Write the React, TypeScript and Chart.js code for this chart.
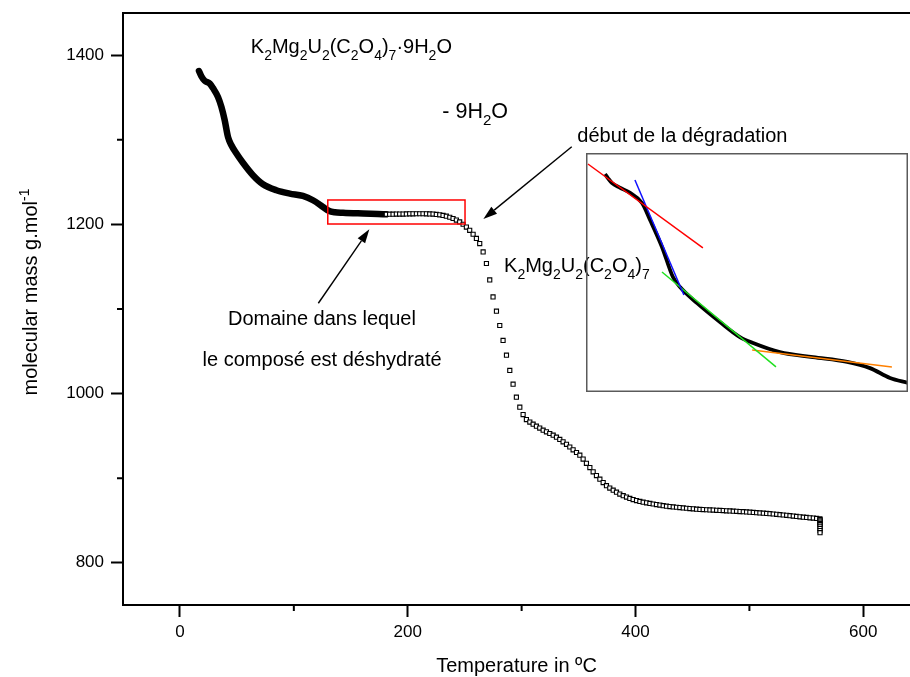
import React, { useEffect, useRef } from 'react';
import { Chart, registerables } from 'chart.js';

Chart.register(...registerables);

const FONT = "'Liberation Sans', Arial, Helvetica, sans-serif";

// ---- axis ticks ----
const xMajorTicks = [0, 200, 400, 600];
const xMinorTicks = [100, 300, 500];
const yMajorTicks = [800, 1000, 1200, 1400];
const yMinorTicks = [900, 1100, 1300];

// ---- densely sampled part (hydrated compound, markers merge into a band) ----
const denseTemp = [16.7, 18.8, 21.7, 26.2, 29.0, 33.4, 36.4, 39.3, 42.2, 45.2, 48.9, 55.3, 64.1, 72.9, 84.7, 96.4, 108.0, 116.8, 125.6, 130.6, 135.9, 143.2, 160.8, 178.3, 181.0];
const denseMass = [1381.4, 1375.2, 1369.9, 1366.5, 1361.2, 1350.7, 1338.9, 1323.2, 1303.4, 1293.6, 1285.3, 1272.9, 1258.2, 1247.5, 1240.4, 1236.5, 1233.7, 1228.6, 1220.7, 1216.2, 1214.4, 1213.8, 1212.9, 1212.1, 1211.9];

// ---- scan points (open squares) ----
const scanTemp = [
  181.2, 184.1, 187.1, 190.0, 192.9, 195.9, 198.8, 201.7, 204.6, 207.6,
  210.5, 213.4, 216.4, 219.3, 222.2, 225.1, 228.1, 231.0, 233.9, 236.9,
  239.8, 242.7, 245.6, 248.6, 251.5, 254.4, 257.4, 260.3, 263.2, 266.2,
  269.1, 272.0, 274.9, 277.9, 280.8, 283.7, 286.7, 289.6, 292.5, 295.4,
  298.4, 301.3, 304.2, 307.2, 310.1, 313.0, 315.9, 318.9, 321.8, 324.7,
  327.7, 330.6, 333.5, 336.4, 339.4, 342.3, 345.2, 348.2, 351.1, 354.0,
  356.9, 359.9, 362.8, 365.7, 368.7, 371.6, 374.5, 377.4, 380.4, 383.3,
  386.2, 389.2, 392.1, 395.0, 397.9, 400.9, 403.8, 406.7, 409.7, 412.6,
  415.5, 418.4, 421.4, 424.3, 427.2, 430.2, 433.1, 436.0, 438.9, 441.9,
  444.8, 447.7, 450.7, 453.6, 456.5, 459.4, 462.4, 465.3, 468.2, 471.2,
  474.1, 477.0, 479.9, 482.9, 485.8, 488.7, 491.7, 494.6, 497.5, 500.4,
  503.4, 506.3, 509.2, 512.2, 515.1, 518.0, 520.9, 523.9, 526.8, 529.7,
  532.7, 535.6, 538.5, 541.4, 544.4, 547.3, 550.2, 553.2, 556.1, 559.0,
  561.9, 562.0, 562.0, 562.0, 562.0, 562.0, 562.0, 562.0, 562.0, 562.0,
];
const scanMass = [
  1212.0, 1212.1, 1212.1, 1212.2, 1212.2, 1212.3, 1212.4, 1212.5, 1212.5, 1212.6,
  1212.6, 1212.6, 1212.5, 1212.4, 1212.2, 1211.8, 1211.3, 1210.6, 1209.7, 1208.5,
  1207.0, 1205.2, 1203.0, 1200.2, 1196.9, 1193.0, 1188.4, 1183.5, 1177.4, 1167.5,
  1153.8, 1134.4, 1114.3, 1097.4, 1080.5, 1062.8, 1045.4, 1027.4, 1011.1, 995.7,
  983.9, 975.2, 969.3, 966.3, 963.8, 961.5, 959.2, 956.7, 954.8, 952.8,
  950.8, 948.4, 945.8, 942.9, 940.0, 936.8, 933.5, 930.3, 927.2, 922.5,
  917.5, 912.5, 907.5, 903.0, 898.8, 894.8, 891.1, 888.3, 885.8, 883.4,
  881.2, 879.3, 877.6, 876.0, 874.6, 873.5, 872.5, 871.6, 870.8, 870.1,
  869.4, 868.7, 868.1, 867.5, 866.9, 866.4, 866.0, 865.6, 865.2, 864.8,
  864.4, 864.0, 863.7, 863.3, 863.0, 862.8, 862.6, 862.4, 862.2, 862.0,
  861.8, 861.6, 861.4, 861.2, 861.0, 860.8, 860.5, 860.3, 860.0, 859.8,
  859.5, 859.2, 858.9, 858.6, 858.3, 858.0, 857.6, 857.2, 856.8, 856.4,
  856.0, 855.6, 855.1, 854.7, 854.3, 853.9, 853.5, 853.1, 852.8, 852.4,
  851.8, 851.0, 849.5, 848.0, 846.5, 845.0, 843.0, 840.5, 838.0, 835.5,
];

// ---- inset (normalised units 0..100) ----
const insetCurveX = [5.9, 6.8, 8.1, 10.5, 13.7, 17.4, 19.9, 23.6, 27.0, 29.2, 34.5, 41.6, 47.8, 51.9, 60.2, 70.5, 81.1, 88.2, 94.4, 100];
const insetCurveY = [91.2, 89.5, 87.4, 85.5, 83.3, 79.1, 72.0, 60.7, 48.1, 43.9, 37.2, 29.3, 23.0, 20.5, 16.7, 14.6, 12.6, 10.0, 5.9, 3.8];
const insetRedX = [0.6, 36.3];
const insetRedY = [95.4, 60.3];
const insetBlueX = [15.2, 30.4];
const insetBlueY = [88.7, 40.6];
const insetGreenX = [23.6, 59.0];
const insetGreenY = [50.2, 10.5];
const insetOrangeX = [51.6, 95.0];
const insetOrangeY = [17.6, 10.5];

// ---- annotations (data coordinates) ----
const boxTemp = [129.8, 250.3];
const boxMass = [1200.5, 1228.9];
const arrowDomaine = [121.5, 1106.8, 166.3, 1194.3];
const arrowDebut = [344.0, 1291.9, 266.4, 1206.4];

type Part = [string, 'n' | 'sub' | 'sup'];
const titleFormula: Part[] = [
  ['K', 'n'], ['2', 'sub'], ['Mg', 'n'], ['2', 'sub'], ['U', 'n'], ['2', 'sub'], ['(C', 'n'], ['2', 'sub'],
  ['O', 'n'], ['4', 'sub'], [')', 'n'], ['7', 'sub'], ['\u00b79H', 'n'], ['2', 'sub'], ['O', 'n'],
];
const anhydrousFormula: Part[] = [
  ['K', 'n'], ['2', 'sub'], ['Mg', 'n'], ['2', 'sub'], ['U', 'n'], ['2', 'sub'], ['(C', 'n'], ['2', 'sub'],
  ['O', 'n'], ['4', 'sub'], [')', 'n'], ['7', 'sub'],
];
const waterLoss: Part[] = [['- 9H', 'n'], ['2', 'sub'], ['O', 'n']];
const yTitle: Part[] = [['molecular mass g.mol', 'n'], ['-1', 'sup']];

function drawRich(ctx: CanvasRenderingContext2D, parts: Part[], x: number, y: number, size: number, align: 'left' | 'center') {
  const small = size * 0.7;
  const widths = parts.map(([t, k]) => {
    ctx.font = `${k === 'n' ? size : small}px ${FONT}`;
    return ctx.measureText(t).width;
  });
  const total = widths.reduce((a, b) => a + b, 0);
  let cx = align === 'center' ? x - total / 2 : x;
  ctx.textAlign = 'left';
  ctx.textBaseline = 'alphabetic';
  parts.forEach(([t, k], i) => {
    ctx.font = `${k === 'n' ? size : small}px ${FONT}`;
    const dy = k === 'sub' ? size * 0.35 : k === 'sup' ? -size * 0.4 : 0;
    ctx.fillText(t, cx, y + dy);
    cx += widths[i];
  });
}

function drawArrow(ctx: CanvasRenderingContext2D, x1: number, y1: number, x2: number, y2: number) {
  const ang = Math.atan2(y2 - y1, x2 - x1);
  const len = 14;
  const half = 4.5;
  const bx = x2 - len * Math.cos(ang);
  const by = y2 - len * Math.sin(ang);
  ctx.strokeStyle = '#000';
  ctx.fillStyle = '#000';
  ctx.lineWidth = 1.4;
  ctx.beginPath();
  ctx.moveTo(x1, y1);
  ctx.lineTo(bx, by);
  ctx.stroke();
  ctx.beginPath();
  ctx.moveTo(x2, y2);
  ctx.lineTo(bx + half * Math.sin(ang), by - half * Math.cos(ang));
  ctx.lineTo(bx - half * Math.sin(ang), by + half * Math.cos(ang));
  ctx.closePath();
  ctx.fill();
}

const framePlugin = {
  id: 'originFrame',
  afterDraw(chart: any) {
    const { ctx, chartArea, scales } = chart;
    const x = scales.x;
    const y = scales.y;
    const px = (v: number) => x.getPixelForValue(v);
    const py = (v: number) => y.getPixelForValue(v);
    ctx.save();
    // top frame line
    ctx.strokeStyle = '#000';
    ctx.lineWidth = 2;
    ctx.beginPath();
    ctx.moveTo(chartArea.left - 1, chartArea.top);
    ctx.lineTo(chartArea.right, chartArea.top);
    ctx.stroke();
    // minor ticks
    ctx.beginPath();
    xMinorTicks.forEach((v) => {
      ctx.moveTo(px(v), chartArea.bottom);
      ctx.lineTo(px(v), chartArea.bottom + 6);
    });
    yMinorTicks.forEach((v) => {
      ctx.moveTo(chartArea.left, py(v));
      ctx.lineTo(chartArea.left - 6, py(v));
    });
    ctx.stroke();

    // red rectangle
    ctx.strokeStyle = '#ff0000';
    ctx.lineWidth = 1.5;
    const rx1 = px(boxTemp[0]);
    const rx2 = px(boxTemp[1]);
    const ry1 = py(boxMass[1]);
    const ry2 = py(boxMass[0]);
    ctx.strokeRect(rx1, ry1, rx2 - rx1, ry2 - ry1);

    // arrows
    drawArrow(ctx, px(arrowDomaine[0]), py(arrowDomaine[1]), px(arrowDomaine[2]), py(arrowDomaine[3]));
    drawArrow(ctx, px(arrowDebut[0]), py(arrowDebut[1]), px(arrowDebut[2]), py(arrowDebut[3]));

    // texts
    ctx.fillStyle = '#000';
    drawRich(ctx, titleFormula, px(62.2), py(1403.1), 20, 'left');
    drawRich(ctx, waterLoss, px(230.4), py(1326.2), 21.5, 'left');
    drawRich(ctx, [['d\u00e9but de la d\u00e9gradation', 'n']], px(348.9), py(1297.8), 20, 'left');
    drawRich(ctx, anhydrousFormula, px(284.6), py(1144.1), 20, 'left');
    drawRich(ctx, [['Domaine dans lequel', 'n']], px(42.2), py(1081.1), 20, 'left');
    drawRich(ctx, [['le compos\u00e9 est d\u00e9shydrat\u00e9', 'n']], px(19.9), py(1032.6), 20, 'left');

    // y axis title (rotated)
    ctx.translate(37, 292);
    ctx.rotate(-Math.PI / 2);
    drawRich(ctx, yTitle, 0, 0, 20, 'center');
    ctx.restore();
  },
};

const insetFramePlugin = {
  id: 'insetFrame',
  afterDraw(chart: any) {
    const { ctx, width, height } = chart;
    ctx.save();
    ctx.strokeStyle = '#5a5a5a';
    ctx.lineWidth = 1.5;
    ctx.strokeRect(0.75, 0.75, width - 1.5, height - 1.5);
    ctx.restore();
  },
};

const pts = (xs: number[], ys: number[]) => xs.map((v, i) => ({ x: v, y: ys[i] }));

export default function App() {
  const mainRef = useRef<HTMLCanvasElement | null>(null);
  const insetRef = useRef<HTMLCanvasElement | null>(null);

  useEffect(() => {
    if (!mainRef.current || !insetRef.current) return;
    const tickFont = { family: FONT, size: 17 };
    const main = new Chart(mainRef.current, {
      type: 'scatter',
      data: {
        datasets: [
          {
            data: pts(denseTemp, denseMass),
            showLine: true,
            borderColor: '#000',
            borderWidth: 6.5,
            borderCapStyle: 'round',
            borderJoinStyle: 'round',
            cubicInterpolationMode: 'monotone',
            pointRadius: 0,
            order: 1,
          },
          {
            data: pts(scanTemp, scanMass),
            showLine: false,
            pointStyle: 'rect',
            pointRadius: 2.9,
            borderWidth: 1.1,
            borderColor: '#000',
            backgroundColor: '#fff',
            order: 0,
          },
        ],
      } as any,
      options: {
        responsive: false,
        animation: false,
        devicePixelRatio: 1,
        events: [],
        layout: { autoPadding: false, padding: { top: 13, right: 0, left: 0, bottom: 0 } },
        plugins: { legend: { display: false }, tooltip: { enabled: false } },
        scales: {
          x: {
            type: 'linear',
            position: 'bottom',
            min: -50,
            max: 641,
            afterBuildTicks: (s: any) => { s.ticks = xMajorTicks.map((v) => ({ value: v })); },
            afterFit: (s: any) => { s.height = 72; s.paddingLeft = 0; s.paddingRight = 0; },
            grid: { drawOnChartArea: false, drawTicks: true, tickLength: 12, tickWidth: 2, tickColor: '#000' },
            border: { display: true, color: '#000', width: 2 },
            ticks: { color: '#000', font: tickFont, padding: 5, maxRotation: 0, autoSkip: false, callback: (v: any) => String(v) },
            title: { display: true, text: 'Temperature in \u00baC', color: '#000', font: { family: FONT, size: 20, lineHeight: 1 }, padding: { top: 0, bottom: 1 } },
          },
          y: {
            type: 'linear',
            min: 750,
            max: 1450,
            afterBuildTicks: (s: any) => { s.ticks = yMajorTicks.map((v) => ({ value: v })); },
            afterFit: (s: any) => { s.width = 123; s.paddingTop = 0; s.paddingBottom = 0; },
            grid: { drawOnChartArea: false, drawTicks: true, tickLength: 12, tickWidth: 2, tickColor: '#000' },
            border: { display: true, color: '#000', width: 2 },
            ticks: { color: '#000', font: tickFont, padding: 7, autoSkip: false, callback: (v: any) => String(v) },
          },
        },
      } as any,
      plugins: [framePlugin],
    });

    const line = (xs: number[], ys: number[], color: string, w: number, order: number) => ({
      data: pts(xs, ys),
      showLine: true,
      borderColor: color,
      borderWidth: w,
      pointRadius: 0,
      order,
    });

    const inset = new Chart(insetRef.current, {
      type: 'scatter',
      data: {
        datasets: [
          { ...line(insetCurveX, insetCurveY, '#000', 3.8, 10), cubicInterpolationMode: 'monotone' },
          line(insetRedX, insetRedY, '#ff0000', 1.5, 0),
          line(insetBlueX, insetBlueY, '#1010ff', 1.5, 0),
          line(insetGreenX, insetGreenY, '#20e020', 1.5, 0),
          line(insetOrangeX, insetOrangeY, '#ff8000', 1.5, 0),
        ],
      } as any,
      options: {
        responsive: false,
        animation: false,
        devicePixelRatio: 1,
        events: [],
        layout: { autoPadding: false, padding: 0 },
        plugins: { legend: { display: false }, tooltip: { enabled: false } },
        scales: {
          x: { type: 'linear', min: 0, max: 100, display: false },
          y: { type: 'linear', min: 0, max: 100, display: false },
        },
      } as any,
      plugins: [insetFramePlugin],
    });

    return () => {
      main.destroy();
      inset.destroy();
    };
  }, []);

  return (
    <div style={{ position: 'fixed', left: 0, top: 0, width: 910, height: 677, background: '#fff' }}>
      <canvas ref={mainRef} width={910} height={677} style={{ position: 'absolute', left: 0, top: 0 }} />
      <canvas ref={insetRef} width={322} height={239} style={{ position: 'absolute', left: 586, top: 153 }} />
    </div>
  );
}
